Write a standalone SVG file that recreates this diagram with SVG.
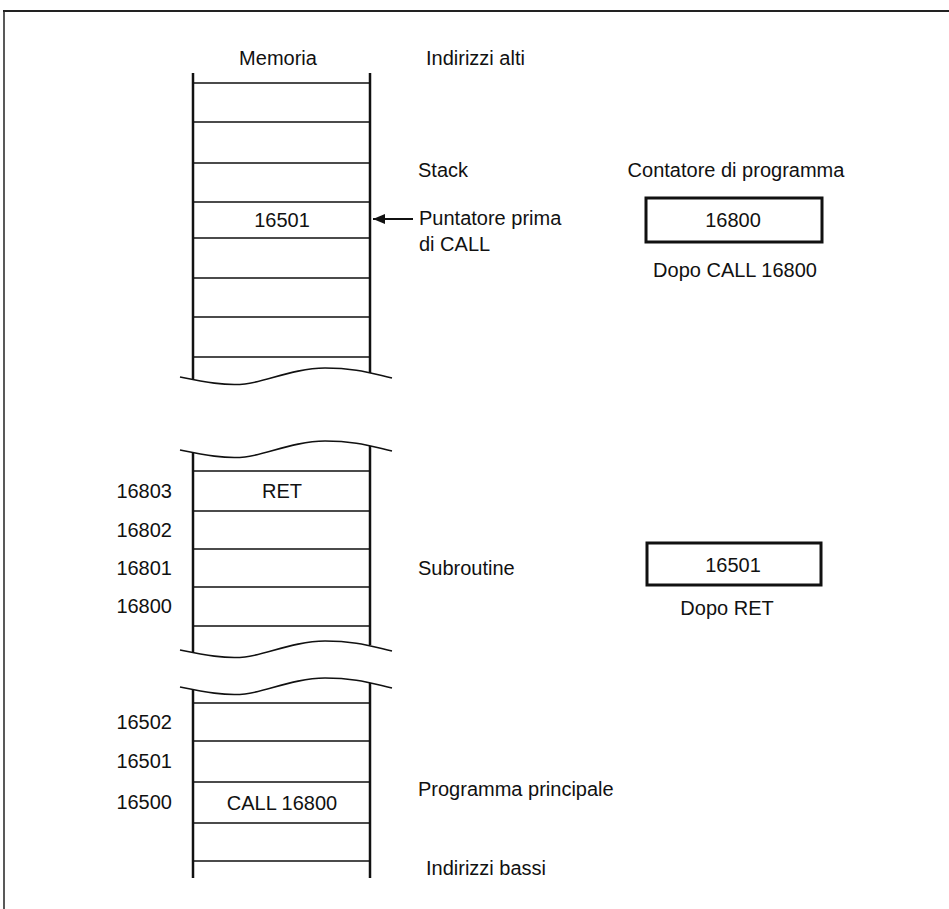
<svg xmlns="http://www.w3.org/2000/svg" width="949" height="909" viewBox="0 0 949 909">
<style>
text{font-family:"Liberation Sans",Arial,sans-serif;font-size:20px;fill:#111}
.mid{text-anchor:middle}
.end{text-anchor:end}
.v{stroke:#111;stroke-width:2.5;fill:none}
.h{stroke:#111;stroke-width:1.5;fill:none}
.w{stroke:#111;stroke-width:1.6;fill:none}
.box{stroke:#111;stroke-width:3;fill:#fff}
</style>
<defs>
<marker id="ah" markerWidth="12" markerHeight="10" refX="12" refY="5" orient="auto" markerUnits="userSpaceOnUse">
<path d="M0,0 L12,5 L0,10 Z" fill="#111"/>
</marker>
</defs>
<rect width="949" height="909" fill="#fff"/>
<g id="frame">
<line x1="3" y1="11" x2="949" y2="11" stroke="#222" stroke-width="2"/>
<line x1="4" y1="10" x2="4" y2="909" stroke="#222" stroke-width="1.5"/>
</g>
<g id="memory">
<text class="mid" x="278" y="65">Memoria</text>
<g id="segment-stack">
<line class="v" x1="193" y1="73" x2="193" y2="380"/>
<line class="v" x1="370" y1="73" x2="370" y2="373"/>
<path class="h" d="M193,83H370M193,122H370M193,163H370M193,202H370M193,238H370M193,278H370M193,317H370M193,357H370"/>
<path class="w" d="M180,377c25,5 45,9 65,7s50,-16 80,-16s45,5 67,10"/>
<text class="mid" x="282" y="227">16501</text>
</g>
<g id="segment-subroutine">
<path class="w" d="M180,450c25,5 45,9 65,7s50,-16 80,-16s45,5 67,10"/>
<line class="v" x1="193" y1="453" x2="193" y2="653"/>
<line class="v" x1="370" y1="446" x2="370" y2="645"/>
<path class="h" d="M193,471H370M193,511H370M193,549H370M193,587H370M193,626H370"/>
<path class="w" d="M180,650c25,5 45,9 65,7s50,-16 80,-16s45,5 67,10"/>
<text class="mid" x="282" y="498">RET</text>
<text class="end" x="172" y="498">16803</text>
<text class="end" x="172" y="537">16802</text>
<text class="end" x="172" y="575">16801</text>
<text class="end" x="172" y="613">16800</text>
</g>
<g id="segment-main">
<path class="w" d="M180,687c25,5 45,9 65,7s50,-16 80,-16s45,5 67,10"/>
<line class="v" x1="193" y1="690" x2="193" y2="878"/>
<line class="v" x1="370" y1="683" x2="370" y2="878"/>
<path class="h" d="M193,703H370M193,741H370M193,782H370M193,823H370M193,861H370"/>
<text class="mid" x="282" y="810">CALL 16800</text>
<text class="end" x="172" y="729">16502</text>
<text class="end" x="172" y="768">16501</text>
<text class="end" x="172" y="809">16500</text>
</g>
</g>
<g id="labels">
<text x="426" y="65">Indirizzi alti</text>
<text x="418" y="177">Stack</text>
<text x="419" y="225">Puntatore prima</text>
<text x="419" y="251">di CALL</text>
<text x="418" y="575">Subroutine</text>
<text x="418" y="796">Programma principale</text>
<text x="426" y="875">Indirizzi bassi</text>
</g>
<g id="connectors">
<line x1="413" y1="219" x2="373" y2="219" stroke="#111" stroke-width="1.8" marker-end="url(#ah)"/>
</g>
<g id="pc-call">
<text class="mid" x="736" y="177">Contatore di programma</text>
<rect class="box" x="646" y="198" width="176" height="44"/>
<text class="mid" x="733" y="227">16800</text>
<text class="mid" x="735" y="277">Dopo CALL 16800</text>
</g>
<g id="pc-ret">
<rect class="box" x="647" y="543" width="174" height="42"/>
<text class="mid" x="733" y="572">16501</text>
<text class="mid" x="727" y="615">Dopo RET</text>
</g>
</svg>
